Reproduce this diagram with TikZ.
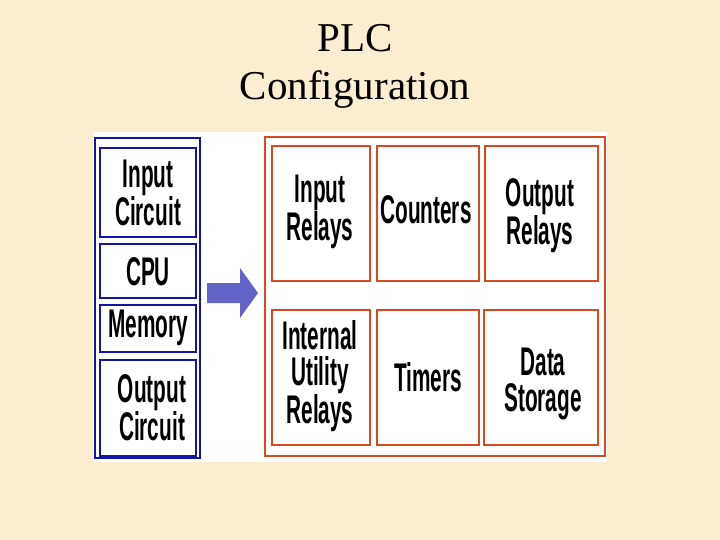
\documentclass[tikz,border=0pt]{standalone}
\usepackage{fontspec}
\setmainfont{Liberation Serif}
\newfontfamily\boxfont{Liberation Sans}
\usepackage{graphicx}
\definecolor{parch}{RGB}{250,237,208}
\definecolor{bblue}{RGB}{20,20,170}
\definecolor{rred}{RGB}{215,75,35}
\definecolor{arr}{RGB}{100,100,200}
\begin{document}
\begin{tikzpicture}[x=1pt,y=-1pt,
  lbl/.style={font=\boxfont\bfseries\fontsize{40}{36}\selectfont,align=center,xscale=0.52,inner sep=0pt}]
\useasboundingbox (0,0) rectangle (720,540);
\fill[parch] (0,0) rectangle (720,540);
\node[font=\fontsize{41}{48}\selectfont,align=center] (title) at (355,66) {PLC\\Configuration};
\fill[white] (93,132) rectangle (607,462);
% left
\draw[bblue,line width=2pt] (95,138) rectangle (200,458);
\draw[bblue,line width=2pt] (100,148) rectangle (196,237);
\draw[bblue,line width=2pt] (100,244) rectangle (196,298);
\draw[bblue,line width=2pt] (100,305) rectangle (196,352);
\draw[bblue,line width=2pt] (100,360) rectangle (196,456);
\node[lbl] (ic) at (148,193) {Input\\Circuit};
\node[lbl] (cpu) at (148,272) {CPU};
\node[lbl] (mem) at (148,328) {Memory};
\node[lbl] (oc) at (152,408) {Output\\Circuit};
% arrow
\fill[arr] (207,283) -- (240,283) -- (240,268) -- (258,293) -- (240,318) -- (240,303) -- (207,303) -- cycle;
% right
\draw[rred,line width=2pt] (265,137) rectangle (605,456);
\draw[rred,line width=2pt] (272,146) rectangle (370,281);
\draw[rred,line width=2pt] (377,146) rectangle (479,281);
\draw[rred,line width=2pt] (485,146) rectangle (598,281);
\draw[rred,line width=2pt] (272,310) rectangle (370,445);
\draw[rred,line width=2pt] (377,310) rectangle (479,445);
\draw[rred,line width=2pt] (484,310) rectangle (598,445);
\node[lbl] (ir) at (320,212) {Input\\Relays};
\node[lbl] (cnt) at (426,210) {Counters};
\node[lbl] (or) at (540,216) {Output\\Relays};
\node[lbl] (iur) at (320,376) {Internal\\Utility\\Relays};
\node[lbl] (tim) at (428,377) {Timers};
\node[lbl] (ds) at (543,384) {Data\\Storage};
\end{tikzpicture}
\end{document}
